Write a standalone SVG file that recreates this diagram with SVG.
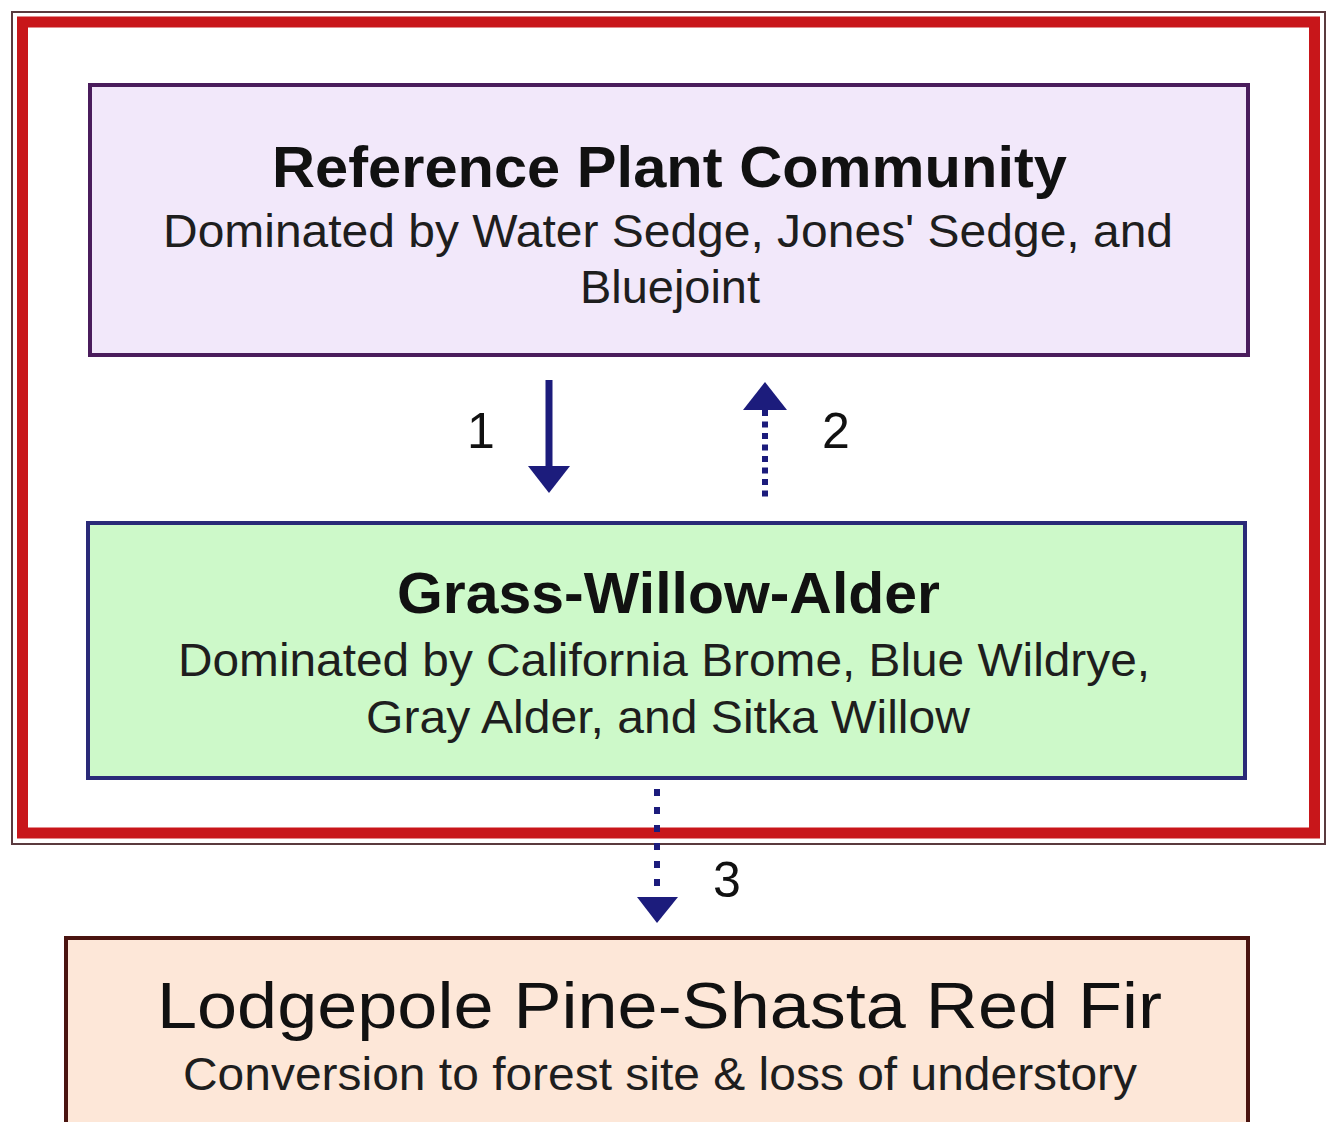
<svg xmlns="http://www.w3.org/2000/svg" width="1329" height="1122" viewBox="0 0 1329 1122">
<style>
.t{font-family:"Liberation Sans",Arial,sans-serif;fill:#111;text-anchor:middle}
.h{font-size:58px;font-weight:bold}
.s{font-size:46px;fill:#1e1e1e}
.n{font-size:50px;font-family:"Liberation Sans",Arial,sans-serif;fill:#111}
.arr{fill:#1c1c7c}
.dot{stroke:#1c1c7c;stroke-width:6;fill:none}
</style>
<rect x="0" y="0" width="1329" height="1122" fill="#ffffff"/>
<g id="frame">
<rect x="12" y="12" width="1313" height="832" fill="#ffffff" stroke="#5a3a3e" stroke-width="2"/>
<rect x="22.5" y="22" width="1292" height="811" fill="none" stroke="#c8161a" stroke-width="11"/>
</g>
<g id="node-reference">
<rect x="90" y="85" width="1158" height="270" fill="#f2e8fa" stroke="#4a1c5c" stroke-width="4"/>
<text class="t h" x="669.5" y="187" textLength="795" lengthAdjust="spacingAndGlyphs">Reference Plant Community</text>
<text class="t s" x="668" y="247" textLength="1010" lengthAdjust="spacingAndGlyphs">Dominated by Water Sedge, Jones' Sedge, and</text>
<text class="t s" x="670" y="303" textLength="180" lengthAdjust="spacingAndGlyphs">Bluejoint</text>
</g>
<g id="node-grass">
<rect x="88" y="523" width="1157" height="255" fill="#cdf9c9" stroke="#2a2a78" stroke-width="4"/>
<text class="t h" x="668.5" y="613" textLength="543" lengthAdjust="spacingAndGlyphs">Grass-Willow-Alder</text>
<text class="t s" x="664" y="676" textLength="972" lengthAdjust="spacingAndGlyphs">Dominated by California Brome, Blue Wildrye,</text>
<text class="t s" x="668" y="733" textLength="604" lengthAdjust="spacingAndGlyphs">Gray Alder, and Sitka Willow</text>
</g>
<g id="node-lodgepole">
<rect x="66" y="938" width="1182" height="200" fill="#fde7d8" stroke="#4a1410" stroke-width="4"/>
<text class="t" style="font-size:64px" x="659.5" y="1028" textLength="1005" lengthAdjust="spacingAndGlyphs">Lodgepole Pine-Shasta Red Fir</text>
<text class="t s" x="660" y="1090" textLength="954" lengthAdjust="spacingAndGlyphs">Conversion to forest site &amp; loss of understory</text>
</g>
<g id="connectors">
<rect class="arr" x="545.5" y="380" width="7" height="88"/>
<polygon class="arr" points="528,466 570,466 549,493"/>
<polygon class="arr" points="765,382 743,410 787,410"/>
<line class="dot" x1="765" y1="410" x2="765" y2="497" stroke-dasharray="6 5.5"/>
<line class="dot" x1="657" y1="789" x2="657" y2="897" stroke-width="7" stroke-dasharray="7 11"/>
<polygon class="arr" points="637,897 678,897 657,923"/>
<text class="n" x="467" y="448">1</text>
<text class="n" x="822" y="448">2</text>
<text class="n" x="713" y="897">3</text>
</g>
</svg>
